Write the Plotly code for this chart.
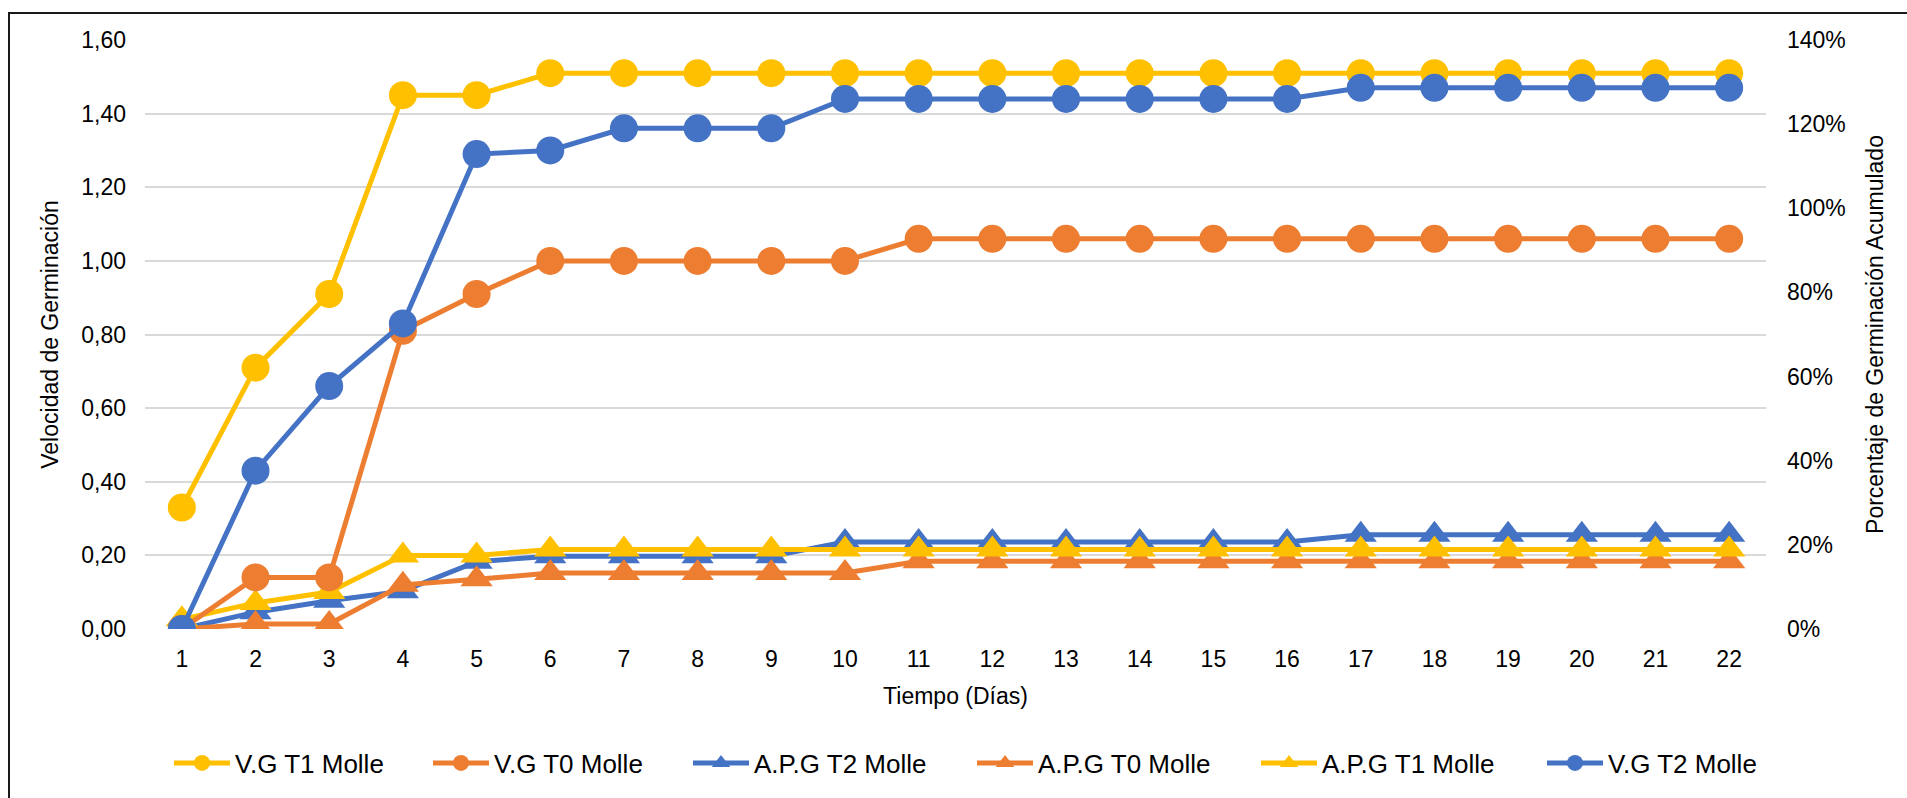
import plotly.graph_objects as go

# Days of the germination trial
dias = [str(d) for d in range(1, 23)]

# Germination speed (left axis)
vg_t1 = [0.33, 0.71, 0.91, 1.45, 1.45, 1.51, 1.51, 1.51, 1.51, 1.51, 1.51,
         1.51, 1.51, 1.51, 1.51, 1.51, 1.51, 1.51, 1.51, 1.51, 1.51, 1.51]
vg_t0 = [0.00, 0.14, 0.14, 0.81, 0.91, 1.00, 1.00, 1.00, 1.00, 1.00, 1.06,
         1.06, 1.06, 1.06, 1.06, 1.06, 1.06, 1.06, 1.06, 1.06, 1.06, 1.06]
vg_t2 = [0.00, 0.43, 0.66, 0.83, 1.29, 1.30, 1.36, 1.36, 1.36, 1.44, 1.44,
         1.44, 1.44, 1.44, 1.44, 1.44, 1.47, 1.47, 1.47, 1.47, 1.47, 1.47]

# Accumulated germination percentage (right axis, as fractions)
apg_t2 = [0.000, 0.040, 0.067, 0.090, 0.160, 0.173, 0.173, 0.173, 0.173, 0.207, 0.207,
          0.207, 0.207, 0.207, 0.207, 0.207, 0.224, 0.224, 0.224, 0.224, 0.224, 0.224]
apg_t0 = [0.000, 0.012, 0.012, 0.105, 0.118, 0.133, 0.133, 0.133, 0.133, 0.133, 0.161,
          0.161, 0.161, 0.161, 0.161, 0.161, 0.161, 0.161, 0.161, 0.161, 0.161, 0.161]
apg_t1 = [0.023, 0.062, 0.088, 0.175, 0.175, 0.189, 0.189, 0.189, 0.189, 0.189, 0.189,
          0.189, 0.189, 0.189, 0.189, 0.189, 0.189, 0.189, 0.189, 0.189, 0.189, 0.189]

AMARILLO = "#FFC000"
NARANJA = "#ED7D31"
AZUL = "#4472C4"
FONT = "Liberation Sans, Arial, sans-serif"

W, H = 1907, 798
ML, MR, MT, MB = 145, 141, 40, 169

# legend entries: left edge of each entry's symbol (px), in display order
LEGEND_X = [174, 433, 693, 977, 1261, 1547]
LEGEND_Y = 763

fig = go.Figure()

def vg_trace(name, y, color, leg):
    return go.Scatter(x=dias, y=y, name=name, yaxis="y2", mode="lines+markers",
                      line=dict(color=color, width=5),
                      marker=dict(symbol="circle", size=28, color=color),
                      legend=leg)

def apg_trace(name, y, color, leg):
    return go.Scatter(x=dias, y=y, name=name, yaxis="y", mode="lines+markers",
                      line=dict(color=color, width=5),
                      marker=dict(symbol="triangle-up", size=28, color=color),
                      legend=leg)

# percentage series sit in the lower layer, speed series above them
fig.add_trace(apg_trace("A.P.G T2 Molle", apg_t2, AZUL, "legend3"))
fig.add_trace(apg_trace("A.P.G T0 Molle", apg_t0, NARANJA, "legend4"))
fig.add_trace(apg_trace("A.P.G T1 Molle", apg_t1, AMARILLO, "legend5"))
fig.add_trace(vg_trace("V.G T1 Molle", vg_t1, AMARILLO, "legend"))
fig.add_trace(vg_trace("V.G T0 Molle", vg_t0, NARANJA, "legend2"))
fig.add_trace(vg_trace("V.G T2 Molle", vg_t2, AZUL, "legend6"))

pw = W - ML - MR
ph = H - MT - MB

def px_x(p):
    return (p - ML) / pw

def px_y(p):
    return (H - MB - p) / ph

legends = {}
for i, lx in enumerate(LEGEND_X):
    key = "legend" if i == 0 else f"legend{i + 1}"
    legends[key] = dict(orientation="h", xref="container", yref="container",
                        x=(lx - 5) / W, xanchor="left",
                        y=(H - LEGEND_Y) / H, yanchor="middle",
                        font=dict(family=FONT, size=26, color="#000000"),
                        itemwidth=56, bgcolor="rgba(0,0,0,0)", borderwidth=0)

fig.update_layout(
    width=W, height=H,
    margin=dict(l=ML, r=MR, t=MT, b=MB, pad=0),
    paper_bgcolor="white", plot_bgcolor="white",
    separators=",.",
    font=dict(family=FONT, size=23, color="#000000"),
    showlegend=True,
    xaxis=dict(type="category", range=[-0.5, 21.5], showgrid=False, zeroline=False,
               showline=False, ticks="", ticklabelstandoff=14,
               tickfont=dict(size=23),
               title=dict(text="Tiempo (Días)", font=dict(size=23), standoff=16)),
    yaxis=dict(side="right", range=[0, 1.4], dtick=0.2, tickformat=".0%",
               showgrid=False, zeroline=False, showline=False, ticks="",
               ticklabelstandoff=20, tickfont=dict(size=23),
               title=dict(text="Porcentaje de Germinación Acumulado",
                          font=dict(size=23), standoff=22)),
    yaxis2=dict(overlaying="y", side="left", range=[0, 1.6], dtick=0.2,
                tickformat=".2f", showgrid=True, gridcolor="#D9D9D9", gridwidth=1.5,
                zeroline=False, showline=False, ticks="", ticklabelstandoff=18,
                tickfont=dict(size=23),
                title=dict(text="Velocidad de Germinación",
                           font=dict(size=23), standoff=16)),
    shapes=[dict(type="path", xref="paper", yref="paper",
                 path=f"M {px_x(9)},{px_y(820)} L {px_x(9)},{px_y(13)} L {px_x(1930)},{px_y(13)}",
                 line=dict(color="#1a1a1a", width=2), layer="above")],
    **legends,
)

fig.write_html("out.html")
